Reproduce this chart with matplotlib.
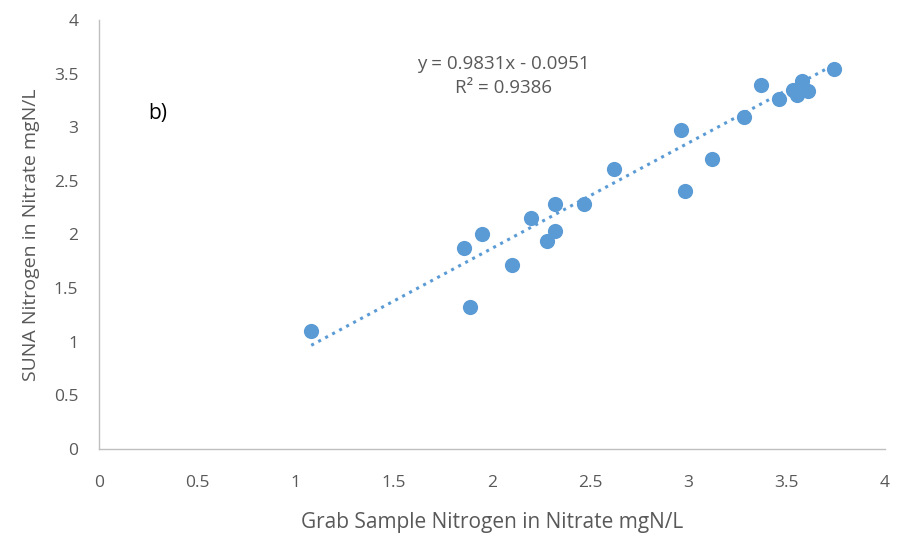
import matplotlib
matplotlib.use("Agg")
import matplotlib.pyplot as plt
import numpy as np

# grab sample vs SUNA nitrate (mgN/L)
grab = [1.08, 1.86, 1.89, 1.95, 2.10, 2.20, 2.28, 2.32, 2.32, 2.47, 2.62,
        2.96, 2.98, 3.12, 3.28, 3.37, 3.46, 3.53, 3.55, 3.58, 3.61, 3.74]
suna = [1.10, 1.87, 1.32, 2.00, 1.72, 2.15, 1.94, 2.03, 2.28, 2.28, 2.61,
        2.97, 2.41, 2.70, 3.10, 3.39, 3.26, 3.35, 3.30, 3.43, 3.34, 3.54]

SLOPE = 0.9831
INTERCEPT = -0.0951
R2 = 0.9386

BLUE = "#5B9BD5"
GREY = "#595959"

plt.rcParams["font.family"] = ["Open Sans", "DejaVu Sans"]

fig = plt.figure(figsize=(9.06, 5.37), dpi=100)
ax = fig.add_axes([0.1093, 0.1639, 0.8675, 0.7989])

ax.scatter(grab, suna, s=120, color=BLUE, zorder=3, linewidths=0)

xs = np.array([min(grab), max(grab)])
ax.plot(xs, SLOPE * xs + INTERCEPT, color=BLUE, linestyle=(0, (1, 1.6)),
        linewidth=2.2, zorder=2)

ax.set_xlim(0, 4)
ax.set_ylim(0, 4)
ax.set_xticks(np.arange(0, 4.01, 0.5))
ax.set_yticks(np.arange(0, 4.01, 0.5))
ax.set_xticklabels(["0", "0.5", "1", "1.5", "2", "2.5", "3", "3.5", "4"])
ax.set_yticklabels(["0", "0.5", "1", "1.5", "2", "2.5", "3", "3.5", "4"])
ax.tick_params(length=0, labelsize=12.5, colors=GREY)
ax.tick_params(axis="x", pad=19)
ax.tick_params(axis="y", pad=15)

for s in ("top", "right"):
    ax.spines[s].set_visible(False)
for s in ("left", "bottom"):
    ax.spines[s].set_color("#BFBFBF")
    ax.spines[s].set_linewidth(1)

ax.set_xlabel("Grab Sample Nitrogen in Nitrate mgN/L", fontsize=15, color=GREY, labelpad=15)
ax.set_ylabel("SUNA Nitrogen in Nitrate mgN/L", fontsize=14, color=GREY, labelpad=10)

ax.text(2.06, 3.48, f"y = {SLOPE}x - {abs(INTERCEPT)}\nR² = {R2}", ha="center", va="center",
        fontsize=13.5, color=GREY, linespacing=1.4)
ax.text(0.25, 3.13, "b)", fontsize=15, color="black", ha="left", va="center")

fig.savefig("out.png", dpi=100)
